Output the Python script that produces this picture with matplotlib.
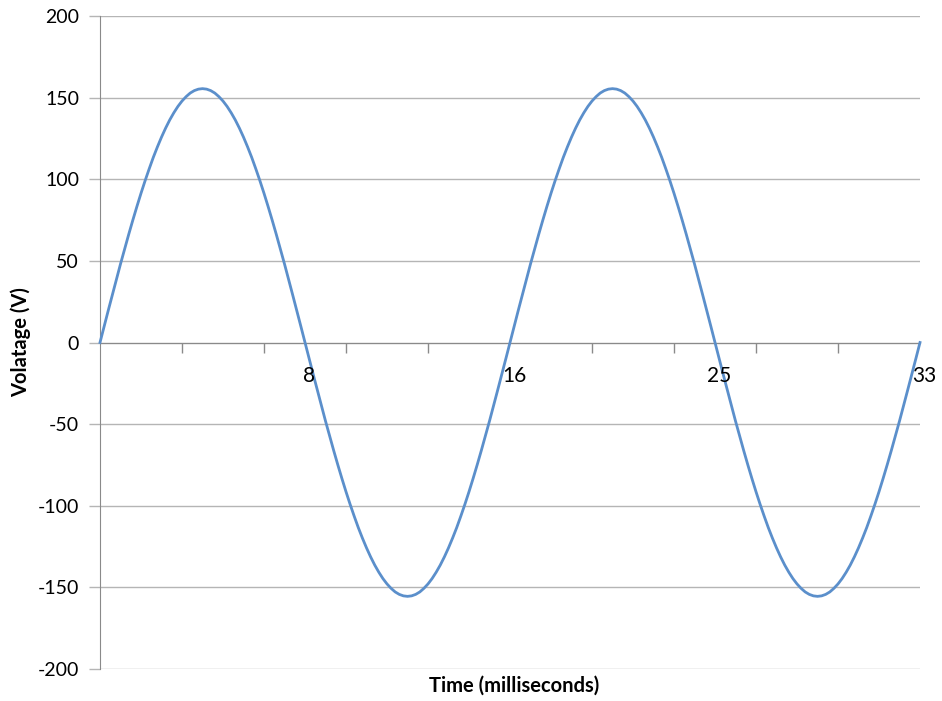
import matplotlib
matplotlib.use("Agg")
import matplotlib.pyplot as plt
import matplotlib.transforms as mtransforms

# sample index (categories) and voltage values
voltage = [
    0, 9.8, 19.5, 29.1, 38.7, 48.1, 57.2, 66.2, 74.9, 83.3,
    91.4, 99.1, 106.4, 113.4, 119.8, 125.8, 131.3, 136.3, 140.7, 144.6,
    147.9, 150.6, 152.8, 154.3, 155.2, 155.5, 155.2, 154.3, 152.8, 150.6,
    147.9, 144.6, 140.7, 136.3, 131.3, 125.8, 119.8, 113.4, 106.4, 99.1,
    91.4, 83.3, 74.9, 66.2, 57.2, 48.1, 38.7, 29.1, 19.5, 9.8,
    0, -9.8, -19.5, -29.1, -38.7, -48.1, -57.2, -66.2, -74.9, -83.3,
    -91.4, -99.1, -106.4, -113.4, -119.8, -125.8, -131.3, -136.3, -140.7, -144.6,
    -147.9, -150.6, -152.8, -154.3, -155.2, -155.5, -155.2, -154.3, -152.8, -150.6,
    -147.9, -144.6, -140.7, -136.3, -131.3, -125.8, -119.8, -113.4, -106.4, -99.1,
    -91.4, -83.3, -74.9, -66.2, -57.2, -48.1, -38.7, -29.1, -19.5, -9.8,
    0, 9.8, 19.5, 29.1, 38.7, 48.1, 57.2, 66.2, 74.9, 83.3,
    91.4, 99.1, 106.4, 113.4, 119.8, 125.8, 131.3, 136.3, 140.7, 144.6,
    147.9, 150.6, 152.8, 154.3, 155.2, 155.5, 155.2, 154.3, 152.8, 150.6,
    147.9, 144.6, 140.7, 136.3, 131.3, 125.8, 119.8, 113.4, 106.4, 99.1,
    91.4, 83.3, 74.9, 66.2, 57.2, 48.1, 38.7, 29.1, 19.5, 9.8,
    0, -9.8, -19.5, -29.1, -38.7, -48.1, -57.2, -66.2, -74.9, -83.3,
    -91.4, -99.1, -106.4, -113.4, -119.8, -125.8, -131.3, -136.3, -140.7, -144.6,
    -147.9, -150.6, -152.8, -154.3, -155.2, -155.5, -155.2, -154.3, -152.8, -150.6,
    -147.9, -144.6, -140.7, -136.3, -131.3, -125.8, -119.8, -113.4, -106.4, -99.1,
    -91.4, -83.3, -74.9, -66.2, -57.2, -48.1, -38.7, -29.1, -19.5, -9.8,
    0,
]
sample_index = list(range(len(voltage)))

x_label_positions = [50, 100, 150, 200]
x_tick_labels = ["8", "16", "25", "33"]
x_minor_ticks = [20, 40, 60, 80, 100, 120, 140, 160, 180, 200]
y_ticks = [-200, -150, -100, -50, 0, 50, 100, 150, 200]

plt.rcParams['font.family'] = ['Lato', 'DejaVu Sans']

fig = plt.figure(figsize=(9.42, 7.01), dpi=100)
ax = fig.add_axes([100 / 942, 32 / 701, 820 / 942, 653 / 701])

grid_c = '#b5b5b5'
axis_c = '#8a8a8a'

ax.plot(sample_index, voltage, color='#5b8fcb', linewidth=2.0, clip_on=False, zorder=3)

ax.set_xlim(0, 200)
ax.set_ylim(-200, 200)

ax.set_yticks(y_ticks)
ax.set_yticklabels([str(v) for v in y_ticks])
ax.yaxis.grid(True, color=grid_c, linewidth=1.0)
ax.set_axisbelow(True)
ax.tick_params(axis='y', length=8, width=1.0, color=grid_c, labelsize=14, pad=7)

ax.spines['top'].set_visible(False)
ax.spines['right'].set_visible(False)
ax.spines['left'].set_color(axis_c)
ax.spines['bottom'].set_color(axis_c)
ax.spines['bottom'].set_position(('data', 0))
ax.spines['bottom'].set_zorder(2)

ax.set_xticks(x_label_positions)
ax.set_xticklabels(x_tick_labels)
ax.set_xticks(x_minor_ticks, minor=True)
ax.tick_params(axis='x', which='major', length=0, labelsize=15, pad=17)
ax.tick_params(axis='x', which='minor', length=7, width=1.0, color=axis_c, direction='out')
ax.xaxis.set_zorder(4)

offset = mtransforms.ScaledTranslation(4 / 100, 0, fig.dpi_scale_trans)
for lbl in ax.get_xticklabels():
    lbl.set_transform(lbl.get_transform() + offset)

fig.text(514 / 942, 1 - 686 / 701, "Time (milliseconds)", ha='center', va='center',
         fontsize=14.5, fontweight='bold')
fig.text(21 / 942, 1 - 342 / 701, "Volatage (V)", ha='center', va='center',
         rotation=90, fontsize=14.5, fontweight='bold')

fig.savefig("out.png", dpi=100)
